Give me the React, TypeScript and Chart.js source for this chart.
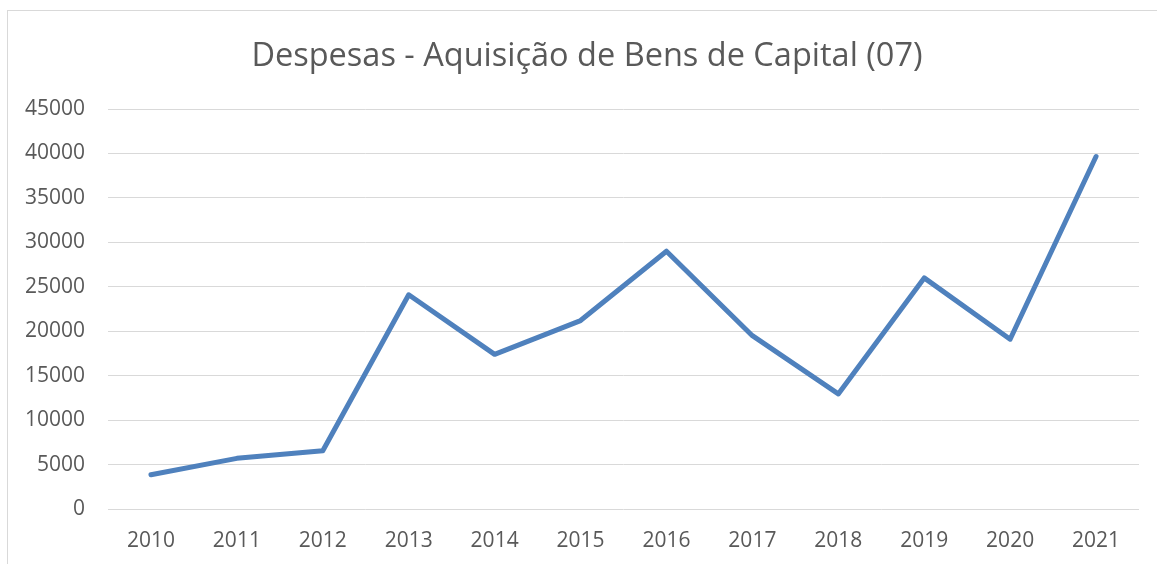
import React, { useEffect, useRef } from "react";
import { Chart, registerables } from "chart.js";

Chart.register(...registerables);

const title = "Despesas - Aquisição de Bens de Capital (07)";
const years = ["2010", "2011", "2012", "2013", "2014", "2015", "2016", "2017", "2018", "2019", "2020", "2021"];
const despesas = [3850, 5700, 6550, 24100, 17400, 21200, 29000, 19500, 12950, 26000, 19100, 39650];
const yMin = 0;
const yMax = 45000;
const yStep = 5000;

const FONT = "'Open Sans', 'DejaVu Sans', sans-serif";
const TEXT = "#595959";
const GRID = "#d9d9d9";

export default function App() {
  const ref = useRef<HTMLCanvasElement | null>(null);

  useEffect(() => {
    document.documentElement.style.overflow = "hidden";
    document.body.style.overflow = "hidden";
    const canvas = ref.current;
    if (!canvas) return;
    const chart = new Chart(canvas, {
      type: "line",
      data: {
        labels: years,
        datasets: [
          {
            label: title,
            data: despesas,
            yAxisID: "y",
            borderColor: "#4f81bd",
            backgroundColor: "#4f81bd",
            borderWidth: 5,
            pointRadius: 0,
            pointHoverRadius: 0,
            tension: 0,
            borderCapStyle: "round",
            borderJoinStyle: "round",
            fill: false,
          },
        ],
      },
      options: {
        responsive: false,
        animation: false,
        devicePixelRatio: 1,
        layout: { padding: { left: 0, right: 0, top: 0, bottom: 10 } },
        plugins: {
          legend: { display: false },
          tooltip: { enabled: false },
          title: {
            display: true,
            text: title,
            color: TEXT,
            font: { family: FONT, size: 32.5, weight: "normal", lineHeight: 1.2 },
            padding: { top: 26, bottom: 33 },
          },
        },
        scales: {
          x: {
            offset: true,
            grid: { display: false, drawTicks: false },
            border: { display: false },
            ticks: {
              color: TEXT,
              font: { family: FONT, size: 21 },
              padding: 19,
              maxRotation: 0,
              autoSkip: false,
            },
            afterFit: (scale: any) => {
              scale.height = 45;
            },
          },
          y: {
            min: yMin,
            max: yMax,
            grid: { color: GRID, lineWidth: 1, drawTicks: false },
            border: { display: false },
            ticks: {
              stepSize: yStep,
              color: TEXT,
              font: { family: FONT, size: 21 },
              padding: 23,
              callback: (v: any) => String(v),
            },
            afterFit: (scale: any) => {
              scale.width = 100;
            },
          },
          spacer: {
            type: "linear",
            position: "right",
            min: 0,
            max: 1,
            grid: { display: false, drawTicks: false },
            border: { display: false },
            ticks: { display: false },
            afterFit: (scale: any) => {
              scale.width = 27;
            },
          },
        },
      },
    });
    return () => chart.destroy();
  }, []);

  return (
    <div
      style={{
        position: "absolute",
        left: 7,
        top: 10,
        width: 1158,
        height: 560,
        border: "1px solid #d9d9d9",
        background: "#ffffff",
        overflow: "hidden",
      }}
    >
      <canvas ref={ref} width={1158} height={553} style={{ display: "block" }} />
    </div>
  );
}
